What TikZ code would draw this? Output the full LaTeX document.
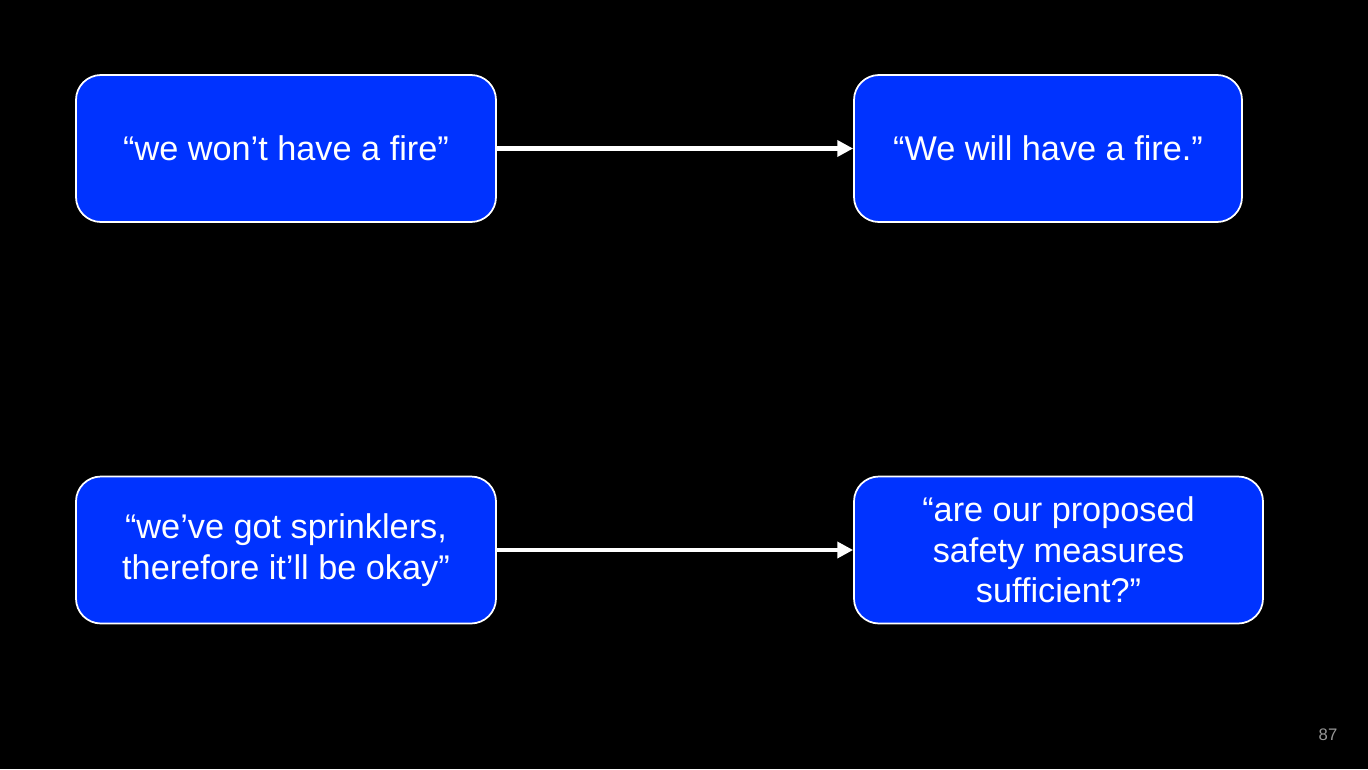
\documentclass[tikz,border=0pt]{standalone}
\usepackage{fontspec}
\setmainfont{Liberation Sans}
\usetikzlibrary{arrows.meta}
\definecolor{boxblue}{RGB}{0,51,255}
\definecolor{pagegray}{RGB}{150,150,150}

\begin{document}
\begin{tikzpicture}[
        claim/.style={draw=white,line width=1pt,fill=boxblue,rounded corners=0.5cm,
            text=white,align=center,font=\fontsize{19.5}{23}\selectfont,
            minimum height=2.94cm,inner sep=0pt},
        link/.style={white,line width=2.3pt,-{Triangle[length=9pt,width=9pt]}}
    ]
        \fill[black] (0,0) rectangle (27.36,-15.38);
        \coordinate (fire) at (5.72,-2.97);
        \coordinate (willfire) at (20.96,-2.97);
        \coordinate (sprink) at (5.72,-11.0);
        \coordinate (measures) at (21.17,-11.0);
        \node[claim,minimum width=8.4cm] (Fire) at (fire){“we won’t have a fire”};
        \node[claim,minimum width=7.76cm] (WillFire) at (willfire){“We will have a fire.”};
        \node[claim,minimum width=8.4cm] (Sprink) at (sprink){“we’ve got sprinklers,\\therefore it’ll be okay”};
        \node[claim,minimum width=8.18cm] (Measures) at (measures){“are our proposed\\safety measures\\sufficient?”};
        \draw[link] (Fire.east) -- (WillFire.west);
        \draw[link] (Sprink.east) -- (Measures.west);
        \node[text=pagegray,font=\fontsize{9.5}{11}\selectfont] (PageNo) at (26.56,-14.7){87};
    \end{tikzpicture}
\end{document}
